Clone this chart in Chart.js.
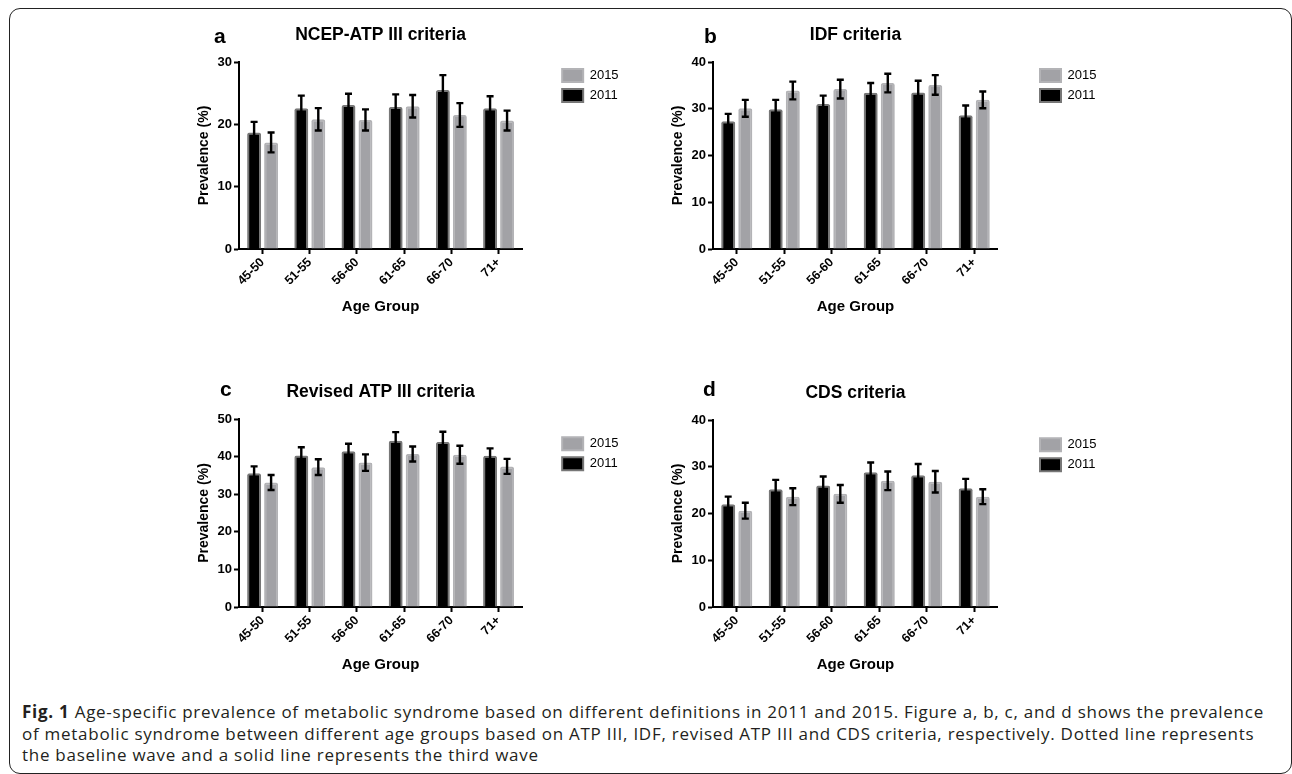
<!DOCTYPE html>
<html>
<head>
<meta charset="utf-8">
<script src="https://cdn.jsdelivr.net/npm/chart.js@4.4.1/dist/chart.umd.min.js"></script>
<style>
  body { margin: 0; width: 1292px; height: 774px; background: #fff; position: relative; overflow: hidden; font-family: "Liberation Sans", Arial, sans-serif; }
  .marco { position: absolute; left: 9px; top: 8px; width: 1283px; height: 766px; box-sizing: border-box; border: 1.4px solid #222; border-radius: 11px; }
  .panel { position: absolute; }
  .letra { position: absolute; font: bold 21px "Liberation Sans", Arial, sans-serif; line-height: 1; color: #000; }
  .pie { position: absolute; left: 22px; top: 701px; font-family: "Open Sans", sans-serif; font-size: 17px; letter-spacing: 0.73px; line-height: 21.5px; color: #231f20; white-space: nowrap; }
</style>
</head>
<body>
<div class="marco"></div>
<div class="pie">
  <b>Fig. 1</b> Age-specific prevalence of metabolic syndrome based on different definitions in 2011 and 2015. Figure a, b, c, and d shows the prevalence<br>
  of metabolic syndrome between different age groups based on ATP III, IDF, revised ATP III and CDS criteria, respectively. Dotted line represents<br>
  the baseline wave and a solid line represents the third wave
</div>
<script>
// datos
const gruposEdad = ['45-50', '51-55', '56-60', '61-65', '66-70', '71+'];
const años = ['2011', '2015'];

const ncep2011 = [18.7, 22.6, 23.1, 22.8, 25.5, 22.6];
const ncep2011Err = [1.7, 2.0, 1.8, 2.0, 2.4, 1.9];
const ncep2015 = [17.1, 20.8, 20.7, 22.9, 21.5, 20.6];
const ncep2015Err = [1.6, 1.8, 1.7, 1.8, 1.9, 1.6];

const idf2011 = [27.3, 29.9, 31.0, 33.4, 33.5, 28.6];
const idf2011Err = [1.6, 2.0, 1.8, 2.1, 2.5, 2.1];
const idf2015 = [30.1, 33.9, 34.2, 35.5, 35.1, 31.9];
const idf2015Err = [1.8, 1.9, 2.0, 2.0, 2.1, 1.8];

const revisado2011 = [35.6, 40.3, 41.4, 44.2, 43.9, 40.2];
const revisado2011Err = [1.8, 2.2, 2.0, 2.3, 2.7, 2.0];
const revisado2015 = [33.1, 37.2, 38.4, 40.7, 40.5, 37.4];
const revisado2015Err = [2.0, 2.1, 2.2, 2.0, 2.4, 2.0];

const cds2011 = [22.0, 25.2, 26.0, 28.8, 28.2, 25.4];
const cds2011Err = [1.6, 2.0, 1.9, 2.1, 2.4, 2.0];
const cds2015 = [20.6, 23.6, 24.2, 27.0, 26.8, 23.6];
const cds2015Err = [1.7, 1.8, 1.9, 2.0, 2.3, 1.6];

const paneles = [
  { letra: 'a', titulo: 'NCEP-ATP III criteria', max: 30, d2011: ncep2011, e2011: ncep2011Err, d2015: ncep2015, e2015: ncep2015Err,
    izq: 239, arriba: 62, ancho: 283, alto: 187, hueco: 33, leyendaY: 0, letraX: 214, letraY: 25 },
  { letra: 'b', titulo: 'IDF criteria', max: 40, d2011: idf2011, e2011: idf2011Err, d2015: idf2015, e2015: idf2015Err,
    izq: 713, arriba: 62, ancho: 285, alto: 187, hueco: 35, leyendaY: 0, letraX: 704, letraY: 25 },
  { letra: 'c', titulo: 'Revised ATP III criteria', max: 50, d2011: revisado2011, e2011: revisado2011Err, d2015: revisado2015, e2015: revisado2015Err,
    izq: 239, arriba: 419, ancho: 283, alto: 188, hueco: 33, leyendaY: 10, letraX: 220, letraY: 378 },
  { letra: 'd', titulo: 'CDS criteria', max: 40, d2011: cds2011, e2011: cds2011Err, d2015: cds2015, e2015: cds2015Err,
    izq: 713, arriba: 420, ancho: 285, alto: 187, hueco: 35, leyendaY: 10, letraX: 703, letraY: 378 }
];

// barras de error dibujadas con las escalas del grafico
const barrasError = {
  id: 'barrasError',
  afterDatasetsDraw(chart) {
    const ctx = chart.ctx;
    const y = chart.scales.y;
    ctx.save();
    ctx.strokeStyle = '#000';
    ctx.lineWidth = 2.4;
    chart.data.datasets.forEach((ds, i) => {
      const meta = chart.getDatasetMeta(i);
      meta.data.forEach((barra, j) => {
        const v = ds.data[j];
        const e = ds.errores[j];
        const yArriba = y.getPixelForValue(v + e);
        const yAbajo = y.getPixelForValue(v - e);
        ctx.beginPath();
        ctx.moveTo(barra.x, yArriba);
        ctx.lineTo(barra.x, yAbajo);
        ctx.moveTo(barra.x - 3.5, yArriba);
        ctx.lineTo(barra.x + 3.5, yArriba);
        ctx.moveTo(barra.x - 3.5, yAbajo);
        ctx.lineTo(barra.x + 3.5, yAbajo);
        ctx.stroke();
      });
    });
    ctx.restore();
  }
};

function crearPanel(p) {
  const anchoEjeY = 50;
  const altoTitulo = 17.5 * 1.2 + 22;
  const altoEjeX = 70;
  const anchoLeyenda = 73.4;
  const margenDer = 10;
  const fuente = '"Liberation Sans", Arial, sans-serif';

  const div = document.createElement('div');
  div.className = 'panel';
  div.style.left = (p.izq - anchoEjeY) + 'px';
  div.style.top = (p.arriba - altoTitulo) + 'px';
  const w = anchoEjeY + p.ancho + p.hueco + anchoLeyenda + margenDer;
  const h = altoTitulo + p.alto + altoEjeX;
  div.style.width = w + 'px';
  div.style.height = h + 'px';
  const canvas = document.createElement('canvas');
  div.appendChild(canvas);
  document.body.appendChild(div);

  const letra = document.createElement('div');
  letra.className = 'letra';
  letra.textContent = p.letra;
  letra.style.left = p.letraX + 'px';
  letra.style.top = p.letraY + 'px';
  document.body.appendChild(letra);

  new Chart(canvas, {
    type: 'bar',
    data: {
      labels: gruposEdad,
      datasets: [
        { label: años[0], data: p.d2011, errores: p.e2011, backgroundColor: '#000', borderColor: '#777', borderWidth: 2, borderRadius: 2 },
        { label: años[1], data: p.d2015, errores: p.e2015, backgroundColor: '#a2a2a6', borderColor: '#b3b3b6', borderWidth: 2, borderRadius: 2 }
      ]
    },
    options: {
      responsive: true,
      maintainAspectRatio: false,
      animation: false,
      categoryPercentage: 0.72,
      barPercentage: 0.82,
      layout: { padding: { right: margenDer } },
      plugins: {
        tooltip: { enabled: false },
        title: {
          display: true,
          text: p.titulo,
          fullSize: false,
          color: '#000',
          font: { family: fuente, size: 17.5, weight: 'bold' },
          padding: { top: 5.5, bottom: 16.5 }
        },
        legend: {
          position: 'right',
          align: 'start',
          fullSize: false,
          reverse: true,
          title: { display: p.leyendaY > 0, text: '', font: { size: 1 }, padding: { top: p.leyendaY, bottom: 0 } },
          labels: {
            boxWidth: 21,
            boxHeight: 13,
            padding: 7,
            color: '#000',
            font: { family: fuente, size: 13 }
          }
        }
      },
      scales: {
        x: {
          afterFit(eje) { eje.height = altoEjeX; },
          grid: { display: true, drawOnChartArea: false, offset: false, tickLength: 5, tickWidth: 2, tickColor: '#000' },
          border: { display: true, color: '#000', width: 2 },
          ticks: { color: '#000', minRotation: 45, maxRotation: 45, padding: 1, font: { family: fuente, size: 12.5, weight: 'bold' } },
          title: { display: true, text: 'Age Group', color: '#000', padding: { top: 0, bottom: 3 }, font: { family: fuente, size: 15, weight: 'bold' } }
        },
        y: {
          min: 0,
          max: p.max,
          afterFit(eje) { eje.width = anchoEjeY; },
          grid: { display: true, drawOnChartArea: false, tickLength: 5, tickWidth: 2, tickColor: '#000' },
          border: { display: true, color: '#000', width: 2 },
          ticks: { stepSize: 10, color: '#000', padding: 2, font: { family: fuente, size: 13, weight: 'bold' } },
          title: { display: true, text: 'Prevalence (%)', color: '#000', padding: { top: 7, bottom: 0 }, font: { family: fuente, size: 14, weight: 'bold' } }
        },
        hueco: {
          position: 'right',
          afterFit(eje) { eje.width = p.hueco; },
          grid: { display: false },
          border: { display: false },
          ticks: { display: false }
        }
      }
    },
    plugins: [barrasError]
  });
}

paneles.forEach(p => crearPanel(p));
</script>
</body>
</html>
